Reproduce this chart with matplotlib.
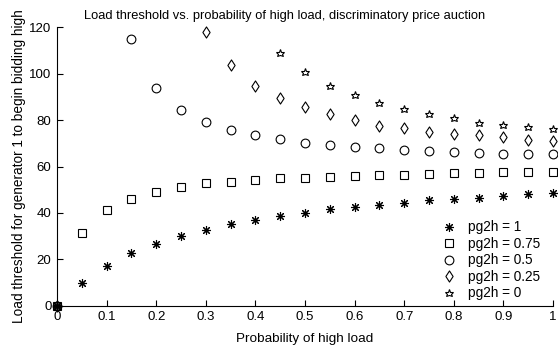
import numpy as np
import matplotlib.pyplot as plt
from matplotlib.path import Path

# probability of high load
p_high = np.round(np.arange(0, 1.0001, 0.05), 2)

nan = np.nan
# load threshold for each value of pg2h (NaN where the threshold is above 120)
thr_pg1 = [0, 10, 17.3, 22.6, 26.8, 29.9, 32.8, 35.1, 37.0, 38.8, 40.1,
           41.7, 42.5, 43.3, 44.3, 45.5, 46.2, 46.5, 47.2, 48.2, 48.6]
thr_pg075 = [0, 31.5, 41.4, 46.0, 49.2, 51.1, 52.7, 53.4, 54.4, 54.9, 55.2,
             55.7, 56.0, 56.3, 56.5, 56.8, 57.1, 57.3, 57.5, 57.5, 57.7]
thr_pg05 = [0, nan, nan, 115.2, 93.8, 84.5, 79.0, 75.8, 73.7, 71.8, 70.3,
            69.5, 68.6, 67.8, 67.2, 66.6, 66.3, 65.9, 65.5, 65.5, 65.2]
thr_pg025 = [0, nan, nan, nan, nan, nan, 118.0, 103.9, 94.9, 89.6, 85.6,
             82.6, 80.0, 77.6, 76.6, 75.1, 74.0, 73.4, 72.7, 71.5, 71.1]
thr_pg0 = [0, nan, nan, nan, nan, nan, nan, nan, nan, 108.8, 100.9,
           94.8, 90.8, 87.2, 84.9, 82.6, 80.9, 78.7, 77.9, 77.0, 76.1]
labels = ['pg2h = 1', 'pg2h = 0.75', 'pg2h = 0.5', 'pg2h = 0.25', 'pg2h = 0']

plt.rcParams['font.family'] = ['Liberation Sans', 'DejaVu Sans']

# narrow diamond like matlab's 'd'
diamond = Path([(0, 1), (0.65, 0), (0, -1), (-0.65, 0), (0, 1)],
               [Path.MOVETO, Path.LINETO, Path.LINETO, Path.LINETO, Path.CLOSEPOLY])

fig = plt.figure(figsize=(5.58, 3.49), dpi=100)
ax = fig.add_axes([0.1022, 0.124, 0.889, 0.7975])

styles = [((8, 2, 0), 6.5, 'k'), ('s', 6, 'none'), ('o', 6.3, 'none'),
          (diamond, 8, 'none'), ('*', 6.2, 'none')]
for y, lab, (m, ms, fc) in zip([thr_pg1, thr_pg075, thr_pg05, thr_pg025, thr_pg0],
                               labels, styles):
    ax.plot(p_high, y, linestyle='none', marker=m, markersize=ms,
            markerfacecolor=fc, markeredgecolor='k', markeredgewidth=0.8,
            color='k', label=lab, clip_on=False)

ax.set_xlim(0, 1)
ax.set_ylim(0, 120)
ax.set_xticks(np.arange(0, 1.01, 0.1))
ax.set_xticklabels(['0', '0.1', '0.2', '0.3', '0.4', '0.5', '0.6', '0.7', '0.8', '0.9', '1'])
ax.set_yticks(np.arange(0, 121, 20))
ax.spines['top'].set_visible(False)
ax.spines['right'].set_visible(False)
ax.tick_params(direction='in', length=4, width=0.8, labelsize=9.5)
ax.tick_params(axis='x', pad=4)
ax.tick_params(axis='y', pad=4)

ax.set_title('Load threshold vs. probability of high load, discriminatory price auction',
             fontsize=9.3, pad=6, x=0.458)
ax.set_xlabel('Probability of high load', fontsize=9.7, labelpad=7)
ax.set_ylabel('Load threshold for generator 1 to begin bidding high', fontsize=9.8,
              labelpad=2)

ax.legend(loc='lower right', frameon=False, fontsize=9.8, handletextpad=0.8,
          labelspacing=0.18, handlelength=1.2, borderaxespad=0.0,
          bbox_to_anchor=(0.985, 0.0))

fig.savefig('out.png', dpi=100)
